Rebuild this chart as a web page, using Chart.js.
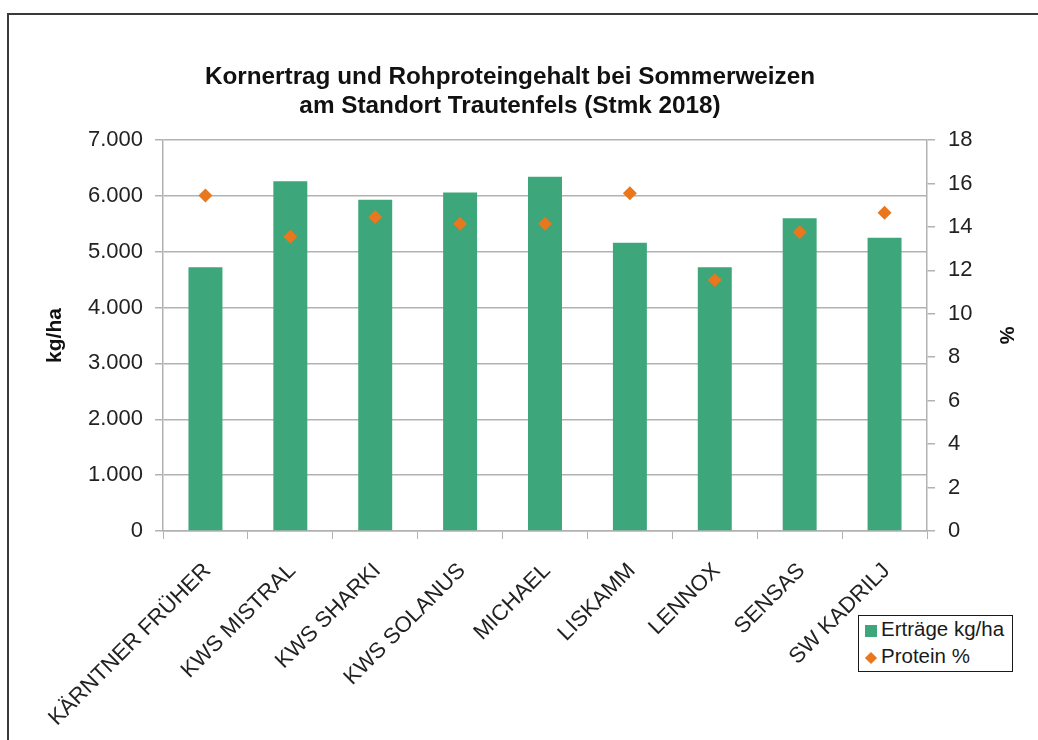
<!DOCTYPE html>
<html lang="de">
<head>
<meta charset="utf-8">
<title>Kornertrag und Rohproteingehalt bei Sommerweizen</title>
<script src="https://cdn.jsdelivr.net/npm/chart.js@4.4.1/dist/chart.umd.min.js"></script>
<style>
  html, body { margin: 0; padding: 0; background: #fff; overflow: hidden; }
  #wrap { position: relative; width: 1038px; height: 740px; }
  #chart { position: absolute; left: 0; top: 0; }
  .frame {
    position: absolute; left: 7px; top: 13px; width: 1100px; height: 800px;
    border-left: 2px solid #3a3a3a; border-top: 2px solid #3a3a3a;
    pointer-events: none;
  }
  .legend {
    position: absolute; left: 858px; top: 615px; width: 153px; height: 55px;
    border: 1.5px solid #1a1a1a; background: #fff;
    font-family: "Liberation Sans", Arial, sans-serif; font-size: 20.5px; color: #1a1a1a;
  }
  .legend .row { position: absolute; left: 6px; height: 24px; line-height: 24px; white-space: nowrap; }
  .legend .mark { display: inline-block; width: 12px; height: 12px; margin-right: 4px; vertical-align: -1px; }
  .legend .diamond { transform: scale(0.72) rotate(45deg); }
</style>
</head>
<body>
<div id="wrap">
  <canvas id="chart" width="1038" height="740"></canvas>
  <div class="frame"></div>
  <div class="legend" id="legend"></div>
</div>
<script>
const sorten = ['KÄRNTNER FRÜHER', 'KWS MISTRAL', 'KWS SHARKI', 'KWS SOLANUS', 'MICHAEL', 'LISKAMM', 'LENNOX', 'SENSAS', 'SW KADRILJ'];
const ertraege = [4720, 6260, 5930, 6060, 6340, 5160, 4720, 5600, 5250];
const protein = [15.45, 13.55, 14.45, 14.15, 14.15, 15.55, 11.55, 13.75, 14.65];
const ertragTicks = [0, 1000, 2000, 3000, 4000, 5000, 6000, 7000];
const proteinTicks = [0, 2, 4, 6, 8, 10, 12, 14, 16, 18];

const grun = '#3da67a';
const orange = '#e8771e';
const grau = '#b2b2b2';
const schrift = '#222222';

Chart.defaults.font.family = '"Liberation Sans", Arial, sans-serif';
Chart.defaults.color = schrift;

// 7000 -> "7.000"
const punkt = v => String(v).replace(/\B(?=(\d{3})+(?!\d))/g, '.');

const chart = new Chart(document.getElementById('chart'), {
  data: {
    labels: sorten,
    datasets: [
      {
        type: 'line',
        label: 'Protein %',
        data: protein,
        yAxisID: 'y1',
        showLine: false,
        pointStyle: 'rectRot',
        pointRadius: 7,
        pointBorderWidth: 0,
        backgroundColor: orange,
        borderColor: orange,
        order: 0
      },
      {
        type: 'bar',
        label: 'Erträge kg/ha',
        data: ertraege,
        yAxisID: 'y',
        backgroundColor: grun,
        barPercentage: 0.8,
        categoryPercentage: 0.5,
        order: 1
      }
    ]
  },
  options: {
    responsive: false,
    animation: false,
    layout: { padding: { left: 0, right: 18, top: 0, bottom: 0 } },
    plugins: {
      legend: { display: false },
      tooltip: { enabled: false },
      title: {
        display: true,
        text: ['Kornertrag und Rohproteingehalt bei Sommerweizen', 'am Standort Trautenfels (Stmk 2018)'],
        color: '#111',
        font: { size: 24.3, weight: 'bold', lineHeight: 29 / 24.3 },
        padding: { top: 62.5, bottom: 19.5 }
      }
    },
    scales: {
      x: {
        afterFit: s => { s.height = 209; },
        grid: { display: true, drawOnChartArea: false, tickLength: 8, color: grau, offset: true },
        border: { display: true, color: grau, width: 1.5 },
        ticks: {
          autoSkip: false, maxRotation: 45, minRotation: 45,
          font: { size: 22 }, padding: 19, labelOffset: 2, color: schrift
        }
      },
      y: {
        position: 'left',
        min: 0, max: 7000,
        afterFit: s => { s.width = 163; },
        afterBuildTicks: s => { s.ticks = ertragTicks.map(v => ({ value: v })); },
        grid: { color: grau, lineWidth: 1.5, tickLength: 8 },
        border: { display: true, color: grau, width: 1.5 },
        ticks: { font: { size: 22 }, padding: 12, color: schrift, callback: v => punkt(v) },
        title: { display: true, text: 'kg/ha', font: { size: 21, weight: 'bold' }, color: '#111', padding: { top: 42.4, bottom: 0 } }
      },
      y1: {
        position: 'right',
        min: 0, max: 18,
        afterFit: s => { s.width = 93; },
        afterBuildTicks: s => { s.ticks = proteinTicks.map(v => ({ value: v })); },
        grid: { drawOnChartArea: false, color: grau, lineWidth: 1.5, tickLength: 8 },
        border: { display: true, color: grau, width: 1.5 },
        ticks: { font: { size: 22 }, padding: 13, color: schrift },
        title: { display: true, text: '%', font: { size: 20, weight: 'bold' }, color: '#111', padding: { top: 2, bottom: 0 } }
      }
    }
  }
});

// Legende als HTML, aus den Datensätzen gebaut
const legend = document.getElementById('legend');
[chart.data.datasets[1], chart.data.datasets[0]].forEach((ds, i) => {
  const row = document.createElement('div');
  row.className = 'row';
  row.style.top = (i === 0 ? 1 : 28) + 'px';
  const mark = document.createElement('span');
  mark.className = 'mark' + (ds.type === 'line' ? ' diamond' : '');
  mark.style.background = ds.backgroundColor;
  row.appendChild(mark);
  row.appendChild(document.createTextNode(ds.label));
  legend.appendChild(row);
});
</script>
</body>
</html>
